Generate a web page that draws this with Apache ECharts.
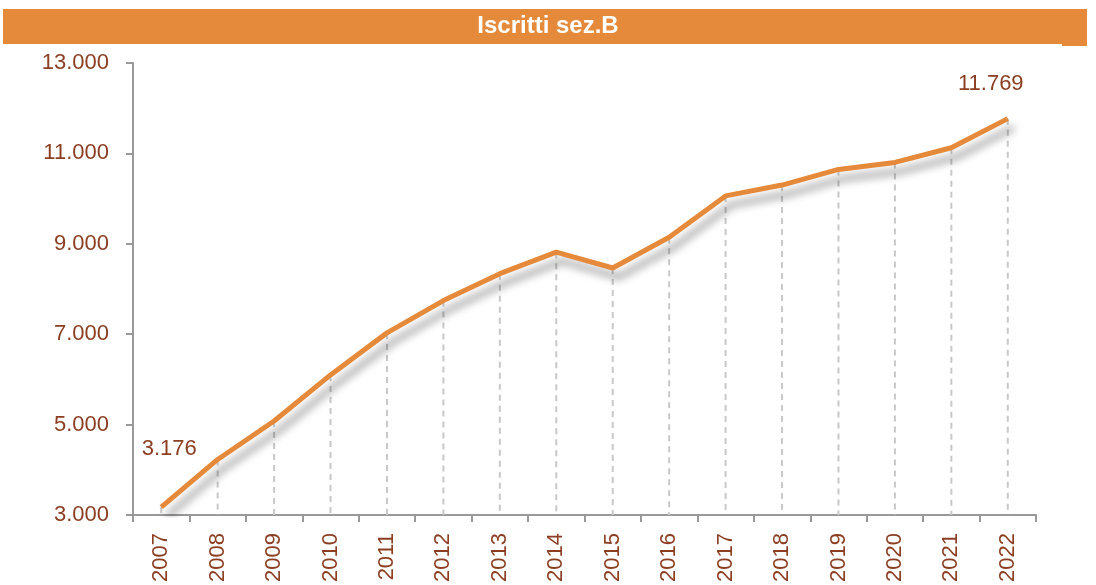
<!DOCTYPE html>
<html>
<head>
<meta charset="utf-8">
<script src="https://cdn.jsdelivr.net/npm/echarts@6/dist/echarts.min.js"></script>
<style>
html,body{margin:0;padding:0;background:#fff;}
#chart{width:1096px;height:585px;}
</style>
</head>
<body>
<div id="chart"></div>
<script>
const title = 'Iscritti sez.B';
const years = ['2007','2008','2009','2010','2011','2012','2013','2014','2015','2016','2017','2018','2019','2020','2021','2022'];
const iscritti = [3176, 4230, 5080, 6100, 7030, 7745, 8340, 8815, 8465, 9145, 10060, 10300, 10645, 10800, 11125, 11769];
const yTicks = [3000, 5000, 7000, 9000, 11000, 13000];
const labelledYears = ['2007', '2022'];

const ORANGE = '#E5893A';
const BROWN = '#8B3E22';
const AXIS = '#999999';
const FONT = '"Liberation Sans", Arial, sans-serif';

function fmt(v) {
  return String(v).replace(/\B(?=(\d{3})+(?!\d))/g, '.');
}

const labelOffsets = { '2007': [8, -42], '2022': [-17, -18] };

const lineData = iscritti.map((v, i) => {
  const y = years[i];
  if (labelledYears.indexOf(y) >= 0) {
    return { value: v, label: { show: true, offset: labelOffsets[y] } };
  }
  return v;
});

const chart = echarts.init(document.getElementById('chart'), null, { renderer: 'canvas' });

chart.setOption({
  animation: false,
  backgroundColor: '#ffffff',
  graphic: [
    { type: 'rect', left: 3, top: 9, shape: { width: 1084, height: 35 }, style: { fill: ORANGE }, z: 10 },
    { type: 'rect', left: 1062, top: 43, shape: { width: 25, height: 3 }, style: { fill: ORANGE }, z: 10 },
    { type: 'text', left: 'center', top: 14, style: { text: title, fill: '#ffffff', font: 'bold 24px ' + FONT, x: 6 }, z: 11 }
  ],
  grid: { left: 133, right: 60, top: 63, bottom: 67, containLabel: false },
  xAxis: {
    type: 'category',
    data: years,
    boundaryGap: true,
    axisLine: { lineStyle: { color: AXIS, width: 2 } },
    axisTick: { show: true, length: 7, lineStyle: { color: AXIS, width: 2 } },
    axisLabel: { rotate: 90, margin: 18, color: BROWN, fontSize: 22, fontFamily: FONT, interval: 0 },
    splitLine: { show: false }
  },
  yAxis: {
    type: 'value',
    min: yTicks[0],
    max: yTicks[yTicks.length - 1],
    interval: yTicks[1] - yTicks[0],
    axisLine: { show: true, lineStyle: { color: AXIS, width: 2 } },
    axisTick: { show: true, length: 7, lineStyle: { color: AXIS, width: 2 } },
    axisLabel: { margin: 24, color: BROWN, fontSize: 22, fontFamily: FONT, formatter: fmt },
    splitLine: { show: false }
  },
  series: [
    {
      type: 'custom',
      z: 1,
      silent: true,
      renderItem: function (params, api) {
        const top = api.coord([api.value(0), api.value(1)]);
        const bottom = api.coord([api.value(0), yTicks[0]]);
        return {
          type: 'line',
          shape: { x1: top[0], y1: top[1], x2: bottom[0], y2: bottom[1] },
          style: { stroke: '#c8c8c8', lineWidth: 2, lineDash: [6, 5] }
        };
      },
      data: iscritti.map((v, i) => [i, v])
    },
    {
      type: 'line',
      z: 3,
      data: lineData,
      symbol: 'circle',
      symbolSize: 1,
      showSymbol: true,
      itemStyle: { color: 'rgba(0,0,0,0)' },
      lineStyle: {
        color: ORANGE,
        width: 5,
        shadowColor: 'rgba(0,0,0,0.4)',
        shadowBlur: 9,
        shadowOffsetX: 6,
        shadowOffsetY: 9
      },
      label: {
        show: false,
        position: 'top',
        color: BROWN,
        fontSize: 22,
        fontFamily: FONT,
        formatter: function (p) { return fmt(p.value); }
      }
    }
  ]
});
</script>
</body>
</html>
